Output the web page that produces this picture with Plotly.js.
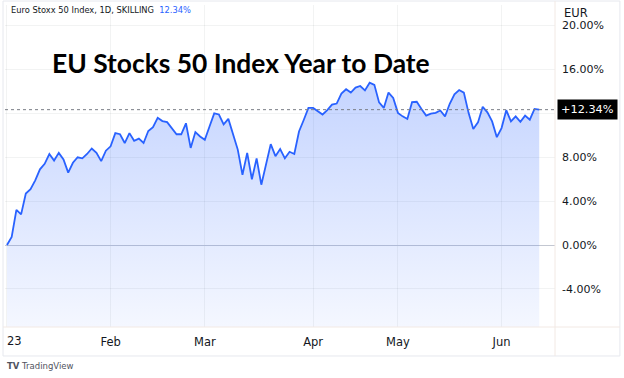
<!DOCTYPE html>
<html>
<head>
<meta charset="utf-8">
<script src="https://cdn.plot.ly/plotly-3.0.1.min.js"></script>
<style>
  html, body { margin: 0; padding: 0; background: #ffffff; }
  #chart { width: 624px; height: 378px; }
</style>
</head>
<body>
<div id="chart"></div>
<script>
// Year-to-date % change of Euro Stoxx 50, one value per trading day (2 Jan 2023 onward)
const ytdPct = [
  0.0, 0.74, 3.2, 2.8, 4.7, 5.1, 5.9, 6.9, 7.4, 8.3, 7.7, 8.4, 7.8, 6.6, 7.5, 8.0, 7.9, 8.3, 8.8, 8.4, 7.65, 8.6,
  9.0, 10.2, 10.1, 9.3, 10.2, 9.5, 9.7, 9.3, 10.4, 10.75, 11.6, 11.3, 11.2, 10.7, 10.1, 10.1, 11.1, 8.85, 10.3, 9.9,
  9.6, 10.8, 12.0, 11.9, 11.0, 11.5, 10.0, 8.7, 6.4, 8.4, 6.0, 7.9, 5.5, 7.4, 9.2, 8.1, 8.75, 7.9, 8.5, 8.3, 10.35, 11.4, 12.5,
  12.5, 12.2, 11.9, 12.3, 12.8, 12.9, 13.8, 14.2, 13.9, 14.35, 14.5, 14.1, 14.8, 14.6, 13.0, 12.5, 13.9, 13.4,
  12.05, 11.73, 11.49, 13.02, 13.06, 12.41, 11.8, 11.98, 12.05, 12.26, 11.73, 12.88, 13.73, 14.13, 13.89, 12.05, 10.57, 11.18, 12.6, 12.1, 11.27, 9.83,
  10.66, 12.29, 11.27, 11.73, 11.24, 11.8, 11.43, 12.41, 12.34
];
const lastValue = 12.34;

// Month labels on the trading-day index axis
const monthTickIndex = [0, 22, 42, 65, 83, 105];
const monthTickLabels = ['23', 'Feb', 'Mar', 'Apr', 'May', 'Jun'];

// Right-hand percent axis
const pctTicks = [-4, 0, 4, 8, 12, 16, 20];
const pctTickLabels = ['-4.00%', '0.00%', '4.00%', '8.00%', '', '16.00%', '20.00%'];

const yMin = -7.47, yMax = 21.88;
const xIdx = ytdPct.map((_, i) => i);
const floor = xIdx.map(() => yMin);

const traces = [
  { x: xIdx, y: floor, type: 'scatter', mode: 'lines', line: { width: 0 }, hoverinfo: 'skip', showlegend: false },
  {
    x: xIdx, y: ytdPct, type: 'scatter', mode: 'lines',
    line: { color: '#2962ff', width: 1.8 },
    fill: 'tonexty',
    fillgradient: { type: 'vertical', colorscale: [[0, 'rgba(41,98,255,0.05)'], [1, 'rgba(41,98,255,0.27)']] },
    showlegend: false
  }
];

const gridC = 'rgba(42,46,57,0.06)';
const sepC = '#f2e9e4';
const tickFont = { family: 'DejaVu Sans', size: 11.5, color: '#131722' };

// First month label is pushed right (left-aligned) as in the source, others are centred
const xTickText = monthTickLabels.map((t, i) => (i === 0 ? '' : t));

const layout = {
  width: 624, height: 378,
  margin: { l: 5, r: 69, t: 5, b: 51 },
  paper_bgcolor: '#ffffff', plot_bgcolor: '#ffffff',
  xaxis: {
    range: [-0.42, 116.35], showgrid: true, gridcolor: gridC, zeroline: false,
    tickmode: 'array', tickvals: monthTickIndex, ticktext: xTickText,
    ticks: '', ticklabelstandoff: 6, showline: false,
    tickfont: tickFont
  },
  yaxis: {
    range: [yMin, yMax], side: 'right', showgrid: true, gridcolor: gridC,
    zeroline: true, zerolinecolor: '#c3c7d1', zerolinewidth: 1,
    tickmode: 'array', tickvals: pctTicks, ticktext: pctTickLabels,
    ticks: '', ticklabelstandoff: 6, showline: false,
    tickfont: { family: 'DejaVu Sans', size: 11, color: '#131722' }
  },
  shapes: [
    { type: 'line', xref: 'paper', yref: 'y', x0: 0, x1: 1, y0: lastValue, y1: lastValue,
      line: { color: '#7a7d85', width: 1, dash: 'dot' } },
    { type: 'rect', xref: 'paper', yref: 'paper', x0: -0.0036, x1: 1.118, y0: -0.09, y1: 1.0124,
      line: { color: '#e6e8ee', width: 1 }, layer: 'above' },
    { type: 'line', xref: 'paper', yref: 'paper', x0: 1, x1: 1, y0: -0.09, y1: 1.0124,
      line: { color: sepC, width: 1 } },
    { type: 'line', xref: 'paper', yref: 'paper', x0: -0.0036, x1: 1.118, y0: 0, y1: 0,
      line: { color: sepC, width: 1 } }
  ],
  annotations: [
    { xref: 'x', yref: 'paper', x: monthTickIndex[0], y: -0.044, xanchor: 'left', yanchor: 'middle', xshift: -2,
      showarrow: false, text: monthTickLabels[0], font: tickFont },
    { xref: 'paper', yref: 'paper', x: 0.0818, y: 0.82, xanchor: 'left', yanchor: 'middle', showarrow: false,
      text: '<b>EU Stocks 50 Index Year to Date</b>',
      font: { family: 'Lato', size: 26.4, color: '#000000' } },
    { xref: 'paper', yref: 'paper', x: 0.0073, y: 0.984, xanchor: 'left', yanchor: 'middle', showarrow: false,
      text: 'Euro Stoxx 50 Index, 1D, SKILLING  <span style="color:#2962ff">12.34%</span>',
      font: { family: 'DejaVu Sans', size: 8.3, color: '#131722' } },
    { xref: 'paper', yref: 'paper', x: 1.0127, y: 0.975, xanchor: 'left', yanchor: 'middle', showarrow: false,
      text: 'EUR', font: { family: 'DejaVu Sans', size: 11.5, color: '#131722' } },
    { xref: 'paper', yref: 'y', x: 1.0036, y: lastValue, xanchor: 'left', yanchor: 'middle', showarrow: false,
      text: '+12.34%', bgcolor: '#000000', borderpad: 3,
      font: { family: 'DejaVu Sans', size: 11.3, color: '#ffffff' } },
    { xref: 'paper', yref: 'paper', x: 0.0, y: -0.121, xanchor: 'left', yanchor: 'middle', showarrow: false,
      text: '<b>TV</b> TradingView', font: { family: 'DejaVu Sans', size: 8.5, color: '#50535e' } }
  ]
};

Plotly.newPlot('chart', traces, layout, { displayModeBar: false, staticPlot: true });
</script>
</body>
</html>
